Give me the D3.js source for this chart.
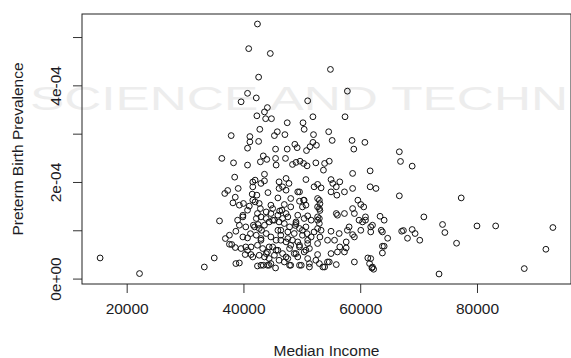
<!DOCTYPE html>
<html>
<head>
<meta charset="utf-8">
<script src="https://cdn.jsdelivr.net/npm/d3@7"></script>
<style>
  body { margin: 0; background: #fff; }
  svg { display: block; font-family: "Liberation Sans", Arial, sans-serif; }
</style>
</head>
<body>
<svg id="chart" width="571" height="358"></svg>
<script>
// median household income, in thousands of dollars
const incomeK = [
  15.45, 22.2, 42.4, 40.9, 44.6, 54.9, 42.6, 40.7, 42.2, 39.6, 57.8, 51.0, 44.1, 43.6, 42.3,
  43.8, 44.8, 51.9, 57.4, 47.5, 50.2, 42.8, 50.4, 37.9, 41.1, 45.8, 45.3, 47.1, 54.6, 52.0,
  41.1, 42.6, 55.2, 58.6, 60.8, 48.8, 51.4, 51.9, 52.5, 40.7, 45.5, 47.5, 49.2, 50.8, 58.9,
  36.3, 38.3, 40.7, 43.4, 44.0, 42.9, 45.5, 45.6, 47.2, 38.5, 43.6, 42.0, 43.6, 46.1, 47.3,
  37.3, 39.1, 36.8, 41.6, 41.5, 42.3, 46.1, 46.7, 45.9, 38.6, 38.2, 39.3, 40.0, 41.0, 42.0,
  42.7, 42.9, 44.7, 45.0, 47.0, 46.6, 39.9, 42.4, 43.0, 44.7, 45.9, 47.3, 43.9,
  35.9, 39.3, 38.7, 36.9, 37.6, 38.0, 38.6, 39.6, 40.4, 40.7, 40.3, 41.3, 35.0, 38.7, 39.3,
  33.3, 42.4, 43.4, 44.1, 44.7, 45.5, 40.7, 41.2, 39.9, 41.7,
  41.9, 42.7, 43.6, 44.4, 45.3, 46.1, 47.0, 42.2, 43.0, 43.9, 44.7, 45.6, 46.4, 47.3, 42.4,
  43.3, 44.1, 45.0, 45.9, 46.7, 42.7, 43.6, 44.4, 45.3, 46.1, 47.0, 42.2, 43.9, 46.4, 47.6,
  48.4, 49.0, 49.7, 50.3, 50.9, 52.4, 53.9, 54.7, 53.7, 58.7, 61.7, 50.7, 47.3, 49.3, 52.1,
  52.7, 53.3, 55.0, 55.3, 55.9, 56.5, 57.3, 55.0, 56.0, 58.7, 61.7, 62.7, 48.1, 49.6, 50.3,
  52.7, 53.0, 48.1, 50.1, 50.7, 52.7, 59.6, 60.1, 60.6, 58.7, 47.6, 49.3, 51.0, 52.7, 56.1,
  57.3, 59.0, 60.9, 63.4,
  55.0, 57.8, 58.7, 59.0, 59.8, 60.9, 62.1, 60.1, 61.8, 63.6, 63.8, 54.4, 55.6, 57.6, 56.1,
  55.0, 57.3, 57.6, 59.0, 61.3, 61.6, 62.1, 62.3, 55.9, 54.4, 53.9, 53.0, 51.3, 49.9, 48.1,
  47.6, 49.3, 51.0, 52.4, 52.7, 50.4, 48.7, 47.9, 49.6, 51.3, 52.7, 51.0, 49.3, 47.6, 48.7,
  50.1, 52.1, 52.7, 53.0, 53.0, 51.6, 50.4, 49.0, 47.9, 49.6, 50.7, 51.6, 48.1, 56.5,
  66.7, 66.9, 68.9, 66.7, 77.3, 64.1, 70.9, 74.1, 74.5, 80.0, 83.2, 93.0, 67.1, 67.4, 68.9,
  69.4, 68.1, 70.2, 76.5, 91.8, 88.1, 73.5, 63.8, 64.7, 64.1, 63.8, 61.8, 62.0,
  41.6, 43.0, 47.8, 49.6, 50.4, 53.0, 52.7, 53.3, 45.0, 46.7, 45.9, 49.0, 50.1, 43.0, 44.4,
  46.4, 48.4, 49.6, 51.0, 50.7, 49.0, 47.3, 45.6, 43.9, 43.0, 44.4, 47.9, 49.6, 51.3, 53.6,
  54.7, 41.6, 40.7, 39.0, 40.4, 39.9, 37.6, 41.3, 41.6, 55.9, 58.1, 56.4, 60.4, 61.8,
  53.1, 53.1, 53.1, 42.5, 43.1, 48.9, 50.9, 46.2, 44.2
];

// preterm birth prevalence, per million
const pretermPerMillion = [
  42.7, 10.4, 527, 476, 466, 433, 417, 383.5, 374, 366, 388, 368, 354, 345, 337,
  331, 331, 335, 335, 322.6, 322.6, 309, 309, 296, 294, 304, 296, 298, 304, 298,
  283, 284, 286, 286, 282, 278, 273, 282, 276, 270, 268, 268, 271, 265, 268,
  248.8, 239.6, 235, 254, 246.7, 241.7, 248.8, 235, 248.8, 210, 216, 203.8, 202.3, 200.3, 207.3,
  182.4, 186.6, 176.2, 189.9, 174.8, 172.7, 186.6, 189.9, 167, 168.5, 156.7, 152, 155.5, 150, 158.8,
  155.5, 145, 152, 145, 153.4, 141.6, 131, 134.7, 127.7, 134.7, 131.2, 134.7, 138,
  119.4, 110.5, 98, 82.9, 71.1, 70.5, 64.3, 62.2, 65.5, 58.7, 49.8, 49.8, 42.7, 31.1, 32.3,
  24, 26.1, 27.6, 27.6, 31.1, 22, 84.2, 93, 127.7, 110.5,
  107, 103.7, 110.5, 117.3, 120.9, 117.3, 114, 89.8, 82.9, 93.3, 86.2, 79.4, 89.8, 75.9, 69,
  62.2, 55.1, 65.5, 58.7, 51.8, 48.3, 44.8, 41.5, 48.3, 37.9, 34.4, 124.4, 124.4, 100, 96.6,
  236.3, 240.5, 243, 238.4, 233.4, 239.6, 238.4, 243, 224.5, 217.7, 223, 205, 183, 179.5, 190,
  195, 187.8, 205, 197, 190, 200.3, 179.5, 179.5, 172.7, 186.6, 190, 186.6, 165.8, 160.2, 162.3,
  165.8, 162.3, 148.4, 148.4, 152, 148.4, 162.3, 153.4, 148.4, 145, 127.7, 131.2, 129.8, 127.7, 131.2,
  134.7, 134.7, 127.7, 129,
  98, 100, 91, 86.2, 120.9, 120.9, 110.5, 100, 96.6, 100, 67, 79.4, 79.4, 75.9, 55.1,
  51.8, 55.1, 63.4, 34.4, 42.7, 31.1, 24, 19.3, 29, 34.4, 24, 31.1, 24, 27.6, 27.6,
  41.5, 44.8, 41.5, 37.9, 49.8, 55.1, 51.8, 62.2, 65.5, 62.2, 72.6, 79.4, 75.9, 82.9, 93.3,
  89.8, 96.6, 103.7, 114, 124.4, 120.9, 124.4, 117.3, 107, 103.7, 107, 86.2, 69, 65.5,
  262.5, 242.5, 232.8, 171.3, 167, 120.9, 127.7, 112, 95.4, 109, 109, 105.7, 98, 99.5, 101.6,
  93.3, 83.5, 79.4, 73.2, 60.7, 20.7, 9.5, 96.6, 83.5, 67, 53, 41.5, 22,
  200, 197, 197, 179.5, 162.3, 145, 120.9, 100, 120.9, 124.4, 100, 114, 100, 79.4, 65.5,
  79.4, 79.4, 69, 72.6, 58.7, 51.8, 44.8, 58.7, 51.8, 27.6, 27.6, 27.6, 27.6, 31.1, 24,
  34.4, 162.3, 141.6, 120.9, 107, 86.2, 89.8, 65.5, 44.8, 134.7, 107, 93.3, 117.3, 107,
  141, 155, 86, 112, 100, 110, 93, 140, 178
];

const xTicks = [20000, 40000, 60000, 80000];
const yTicks = [0, 1e-4, 2e-4, 3e-4, 4e-4, 5e-4];
const yTickLabels = ["0e+00", "", "2e-04", "", "4e-04", ""];

const data = incomeK.map((k, i) => ({ income: k * 1000, prev: pretermPerMillion[i] / 1e6 }));

const margin = { top: 14, right: 0, bottom: 74, left: 82 };
const width = 571 - margin.left - margin.right;
const height = 358 - margin.top - margin.bottom;

const svg = d3.select("#chart");

// faint publisher watermark behind the plot
svg.append("text")
  .attr("x", 30).attr("y", 110)
  .attr("textLength", 538)
  .attr("lengthAdjust", "spacingAndGlyphs")
  .style("font-size", "34px")
  .attr("fill", "#ededed")
  .text("SCIENCE AND TECHN");

const g = svg.append("g")
  .attr("transform", `translate(${margin.left}, ${margin.top})`);

// R style limits: data range plus 4% on each side
const pad = (ext) => { const d = (ext[1] - ext[0]) * 0.04; return [ext[0] - d, ext[1] + d]; };

const x = d3.scaleLinear()
  .domain(pad(d3.extent(data, d => d.income)))
  .range([0, width]);

const y = d3.scaleLinear()
  .domain(pad(d3.extent(data, d => d.prev)))
  .range([height, 0]);

const xAxis = d3.axisBottom(x)
  .tickValues(xTicks)
  .tickFormat(d3.format("d"))
  .tickSizeInner(9)
  .tickSizeOuter(0)
  .tickPadding(10);

g.append("g")
  .attr("transform", `translate(0, ${height})`)
  .call(xAxis)
  .call(a => a.select(".domain").remove())
  .call(a => a.selectAll("line").attr("stroke", "#333"))
  .call(a => a.selectAll("text").attr("fill", "#1c1c24").style("font-size", "15.5px").style("font-family", "Liberation Sans, Arial, sans-serif"));

const yAxis = d3.axisLeft(y)
  .tickValues(yTicks)
  .tickFormat((d, i) => yTickLabels[i])
  .tickSizeInner(9)
  .tickSizeOuter(0);

g.append("g")
  .call(yAxis)
  .call(a => a.select(".domain").remove())
  .call(a => a.selectAll("line").attr("stroke", "#333"))
  .call(a => a.selectAll("text")
    .attr("fill", "#1c1c24")
    .attr("x", null).attr("dy", null)
    .attr("text-anchor", "middle")
    .attr("transform", "translate(-21, 0) rotate(-90)")
    .style("font-size", "15.5px")
    .style("font-family", "Liberation Sans, Arial, sans-serif"));

// plot frame
g.append("rect")
  .attr("width", width).attr("height", height)
  .attr("fill", "none")
  .attr("stroke", "#222")
  .attr("stroke-width", 1);

// points
g.append("g")
  .selectAll("circle")
  .data(data)
  .join("circle")
  .attr("cx", d => x(d.income))
  .attr("cy", d => y(d.prev))
  .attr("r", 2.9)
  .attr("fill", "none")
  .attr("stroke", "#111")
  .attr("stroke-width", 1);

// axis titles
svg.append("text")
  .attr("x", margin.left + width / 2)
  .attr("y", 356)
  .attr("text-anchor", "middle")
  .attr("fill", "#1c1c24")
  .style("font-size", "15.5px")
  .text("Median Income");

svg.append("text")
  .attr("transform", `translate(23, ${margin.top + height / 2}) rotate(-90)`)
  .attr("text-anchor", "middle")
  .attr("fill", "#1c1c24")
  .style("font-size", "15.5px")
  .text("Preterm Birth Prevalence");
</script>
</body>
</html>
